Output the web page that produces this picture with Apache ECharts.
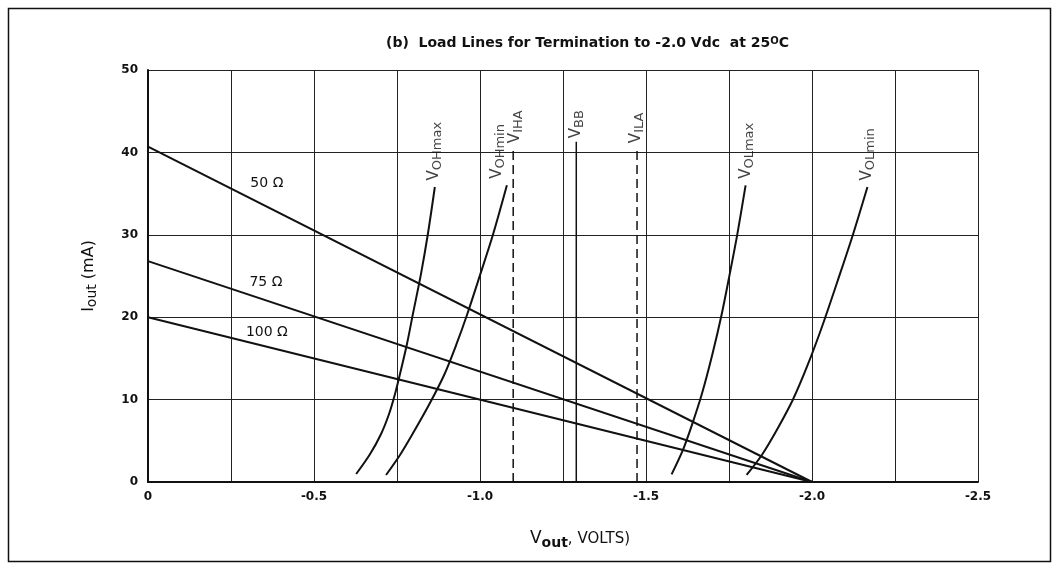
<!DOCTYPE html>
<html><head><meta charset="utf-8">
<script src="https://cdn.jsdelivr.net/npm/echarts@6/dist/echarts.min.js"></script>
<style>html,body{margin:0;padding:0;background:#fff}#c{width:1059px;height:569px}</style>
</head><body><div id="c"></div>
<script>
// ---- data ----
const xTickLabels = ['0', '-0.5', '-1.0', '-1.5', '-2.0', '-2.5'];
const yTickLabels = ['0', '10', '20', '30', '40', '50'];

// load lines (Vout, Iout)
const load50  = [[0, 40.7], [-2.0, 0]];
const load75  = [[0, 26.8], [-2.0, 0]];
const load100 = [[0, 20.0], [-2.0, 0]];
const loadNames = ['50 \u03A9', '75 \u03A9', '100 \u03A9'];

// output characteristic curves (Vout, Iout)
const vohMax = [[-0.627, 0.97], [-0.669, 3.40], [-0.702, 5.83], [-0.726, 8.25], [-0.744, 10.68], [-0.759, 13.1], [-0.780, 16.75], [-0.798, 20.4], [-0.822, 25.2], [-0.843, 30.1], [-0.864, 35.8]];
const vohMin = [[-0.717, 0.85], [-0.759, 3.28], [-0.795, 5.70], [-0.846, 9.34], [-0.892, 12.99], [-0.928, 16.6], [-0.961, 20.3], [-1.000, 25.1], [-1.039, 30.0], [-1.081, 36.0]];
const volMax = [[-1.577, 0.93], [-1.612, 3.97], [-1.639, 7.0], [-1.668, 10.64], [-1.700, 15.5], [-1.728, 20.35], [-1.752, 25.2], [-1.775, 30.06], [-1.800, 36.0]];
const volMin = [[-1.803, 0.85], [-1.849, 3.28], [-1.894, 6.31], [-1.942, 9.95], [-1.987, 14.2], [-2.032, 19.05], [-2.083, 25.1], [-2.123, 29.98], [-2.167, 35.8]];

// threshold / reference voltages
const vIHA = [[-1.10, 0], [-1.10, 40.7]];
const vBB  = [[-1.29, 0], [-1.29, 41.3]];
const vILA = [[-1.473, 0], [-1.473, 40.7]];

const curveSubs = ['OHmax', 'OHmin', 'OLmax', 'OLmin'];
const markerSubs = ['IHA', 'BB', 'ILA'];

// ---- chart ----
const FONT = 'DejaVu Sans';
const INK = '#111';
const chart = echarts.init(document.getElementById('c'), null, {renderer: 'canvas'});

const rich = {
  v: {fontSize: 15, fontFamily: FONT, color: INK, lineHeight: 20},
  s: {fontSize: 13, fontFamily: FONT, color: INK, lineHeight: 13, verticalAlign: 'bottom'}
};

function lineSeries(data, width, dashed) {
  return {
    type: 'line', data: data, smooth: false, showSymbol: false, symbol: 'none',
    lineStyle: {color: INK, width: width, type: dashed ? [9, 5] : 'solid'},
    silent: true, animation: false, z: 5
  };
}
function curveSeries(data) {
  const s = lineSeries(data, 2, false);
  s.smooth = 0.3;
  return s;
}

const loadLabelPos = [[-0.358, 36.3], [-0.355, 24.2], [-0.358, 18.2]];
const loadSeries = [load50, load75, load100].map((d, i) => {
  const s = lineSeries(d, 2, false);
  s.markPoint = {
    symbol: 'circle', symbolSize: 0, silent: true, animation: false,
    data: [{coord: loadLabelPos[i], label: {show: true, position: 'inside', formatter: loadNames[i],
      fontFamily: FONT, fontSize: 14, color: INK}}]
  };
  return s;
});

const curves = [vohMax, vohMin, volMax, volMin];
const markers = [vIHA, vBB, vILA];
const curveLabelShift = [-1, -10, 1, 0];
const markerLabelShift = [2, 0, -1];

const labelPoints = [];
curves.forEach((c, i) => labelPoints.push({value: c[c.length - 1], sub: curveSubs[i], dist: 6, shift: curveLabelShift[i]}));
markers.forEach((m, i) => labelPoints.push({value: m[m.length - 1], sub: markerSubs[i], dist: 3, shift: markerLabelShift[i]}));

const labelSeries = {
  type: 'scatter', symbolSize: 1, itemStyle: {color: 'rgba(0,0,0,0)'}, silent: true, animation: false, z: 6,
  data: labelPoints.map(p => ({
    value: p.value,
    label: {
      show: true, position: 'top', distance: p.dist, rotate: 90, align: 'left', verticalAlign: 'middle',
      offset: [0, p.shift],
      formatter: '{v|V}{s|' + p.sub + '}', rich: rich
    }
  }))
};

const option = {
  animation: false,
  backgroundColor: '#fff',
  title: {
    text: '(b)  Load Lines for Termination to -2.0 Vdc  at 25{sup|O}C',
    left: 381, top: 31,
    textStyle: {
      fontFamily: FONT, fontWeight: 'bold', fontSize: 14, color: INK,
      rich: {sup: {fontFamily: FONT, fontWeight: 'bold', fontSize: 10, color: INK, verticalAlign: 'top', lineHeight: 10}}
    }
  },
  grid: {left: 148, right: 81, top: 70, bottom: 87, containLabel: false},
  xAxis: {
    type: 'value', min: -2.5, max: 0, interval: 0.25, inverse: true,
    axisLine: {show: true, onZero: false, lineStyle: {color: INK, width: 2}},
    axisTick: {show: false},
    axisLabel: {
      color: INK, fontFamily: FONT, fontWeight: 'bold', fontSize: 12, margin: 9,
      showMinLabel: true, showMaxLabel: true,
      formatter: v => {
        const k = Math.round(-v / 0.5);
        return Math.abs(-v - k * 0.5) < 1e-6 ? xTickLabels[k] : '';
      }
    },
    splitLine: {show: true, lineStyle: {color: '#222', width: 1}},
    name: '{v|V}{s|out}{t|, VOLTS)}', nameLocation: 'middle', nameGap: 46,
    nameTextStyle: {
      padding: [0, 0, 0, 34],
      rich: {
        v: {fontSize: 17, fontFamily: FONT, color: INK, lineHeight: 22},
        s: {fontSize: 14, fontFamily: FONT, fontWeight: 'bold', color: INK, lineHeight: 14, verticalAlign: 'bottom'},
        t: {fontSize: 15, fontFamily: FONT, color: INK, lineHeight: 22}
      }
    }
  },
  yAxis: {
    type: 'value', min: 0, max: 50, interval: 10,
    axisLine: {show: true, onZero: false, lineStyle: {color: INK, width: 2}},
    axisTick: {show: false},
    axisLabel: {
      color: INK, fontFamily: FONT, fontWeight: 'bold', fontSize: 12, margin: 10,
      formatter: v => yTickLabels[Math.round(v / 10)]
    },
    splitLine: {show: true, lineStyle: {color: '#222', width: 1}},
    name: '{i|I}{s|out}{t| (mA)}', nameLocation: 'middle', nameGap: 49, nameRotate: 90,
    nameTextStyle: {
      rich: {
        i: {fontSize: 16, fontFamily: FONT, color: INK, lineHeight: 21},
        s: {fontSize: 14, fontFamily: FONT, color: INK, lineHeight: 14, verticalAlign: 'bottom'},
        t: {fontSize: 16, fontFamily: FONT, color: INK, lineHeight: 21}
      }
    }
  },
  graphic: [{
    type: 'rect', silent: true, z: 100,
    shape: {x: 8.5, y: 8.5, width: 1042, height: 553},
    style: {fill: 'none', stroke: INK, lineWidth: 1.5}
  }],
  series: [
    ...loadSeries,
    ...curves.map(curveSeries),
    lineSeries(vIHA, 1.5, true),
    lineSeries(vBB, 1.5, false),
    lineSeries(vILA, 1.5, true),
    labelSeries
  ]
};
chart.setOption(option);
</script>
</body></html>
